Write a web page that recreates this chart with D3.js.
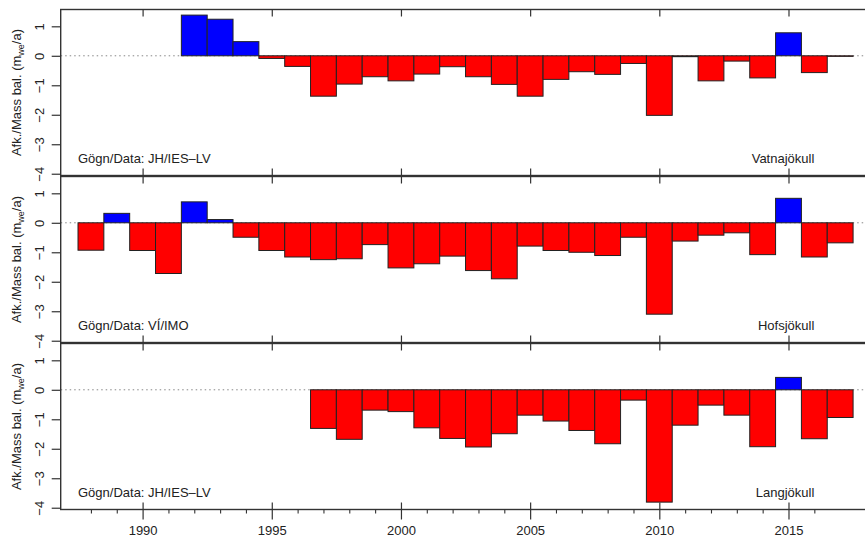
<!DOCTYPE html>
<html><head><meta charset="utf-8">
<script src="https://cdn.jsdelivr.net/npm/d3@7"></script>
<style>
body{margin:0;background:#fff}
svg{display:block}
text{font-family:"Liberation Sans",Arial,Helvetica,sans-serif;fill:#222}
</style>
</head><body>
<svg id="chart" width="865" height="538"></svg>
<script>
// ---- data ----
const years = [1988,1989,1990,1991,1992,1993,1994,1995,1996,1997,1998,1999,2000,2001,2002,2003,2004,2005,2006,2007,2008,2009,2010,2011,2012,2013,2014,2015,2016,2017];
const vatnajokull = [null,null,null,null,1.38,1.24,0.48,-0.09,-0.36,-1.37,-0.96,-0.71,-0.85,-0.62,-0.37,-0.71,-0.97,-1.37,-0.80,-0.54,-0.63,-0.26,-2.02,-0.03,-0.85,-0.18,-0.75,0.78,-0.57,-0.02];
const hofsjokull = [-0.93,0.32,-0.94,-1.72,0.71,0.11,-0.49,-0.94,-1.16,-1.25,-1.22,-0.74,-1.53,-1.39,-1.13,-1.62,-1.90,-0.79,-0.94,-1.00,-1.11,-0.49,-3.10,-0.62,-0.42,-0.34,-1.08,0.83,-1.16,-0.68];
const langjokull = [null,null,null,null,null,null,null,null,null,-1.31,-1.68,-0.69,-0.74,-1.29,-1.65,-1.94,-1.49,-0.86,-1.06,-1.38,-1.83,-0.35,-3.81,-1.20,-0.52,-0.86,-1.93,0.42,-1.66,-0.94];
const glaciers = ["Vatnajökull","Hofsjökull","Langjökull"];
const sources = ["Gögn/Data: JH/IES–LV","Gögn/Data: VÍ/IMO","Gögn/Data: JH/IES–LV"];
const yTicks = [-4,-3,-2,-1,0,1];
const xMajor = [1990,1995,2000,2005,2010,2015];
const xMinor = [1988,1989,1991,1992,1993,1994,1996,1997,1998,1999,2001,2002,2003,2004,2006,2007,2008,2009,2011,2012,2013,2014,2016];

const series = [vatnajokull, hofsjokull, langjokull];

// ---- layout ----
const svg = d3.select("#chart");
const left = 60.7, right = 866;
const panelTops = [9.5, 176.5, 343.5];
const panelH = 166;
const fs = 13;

const x = d3.scaleLinear().domain([1986.83, 2018.0]).range([left, right]);
const barW = x(1) - x(0);

series.forEach((vals, i) => {
  const top = panelTops[i], bottom = top + panelH;
  const y = d3.scaleLinear().domain([-4.06, 1.57]).range([bottom, top]);
  const g = svg.append("g");

  // zero line (dotted)
  g.append("line")
    .attr("x1", left).attr("x2", right)
    .attr("y1", y(0)).attr("y2", y(0))
    .attr("stroke", "#888").attr("stroke-width", 1)
    .attr("stroke-dasharray", "1.5,3");

  // bars
  const data = years.map((yr, k) => ({yr, v: vals[k]})).filter(d => d.v !== null);
  g.selectAll("rect.bar").data(data).join("rect")
    .attr("class", "bar")
    .attr("x", d => x(d.yr - 0.5))
    .attr("width", barW)
    .attr("y", d => y(Math.max(d.v, 0)))
    .attr("height", d => Math.abs(y(d.v) - y(0)))
    .attr("fill", d => d.v >= 0 ? "#0000ff" : "#ff0000")
    .attr("stroke", "#222").attr("stroke-width", 1);

  // box
  g.append("rect")
    .attr("x", left).attr("y", top)
    .attr("width", right - left).attr("height", panelH)
    .attr("fill", "none").attr("stroke", "#333").attr("stroke-width", 1.4);

  // y axis
  const ya = g.append("g").attr("transform", `translate(${left},0)`)
    .call(d3.axisLeft(y).tickValues(yTicks).tickSize(9).tickSizeOuter(0).tickFormat(d => d < 0 ? "\u2212" + Math.abs(d) : d));
  ya.select(".domain").remove();
  ya.selectAll(".tick line").attr("stroke", "#333").attr("stroke-width", 1.2);
  ya.selectAll(".tick text")
    .attr("x", 0).attr("dy", 0)
    .attr("transform", "translate(-17,0) rotate(-90)")
    .attr("text-anchor", "middle")
    .style("font-size", fs + "px").style("font-family", "Liberation Sans, Arial, sans-serif").attr("fill", "#222");

  // top inward ticks
  const ta = g.append("g").attr("transform", `translate(0,${top})`)
    .call(d3.axisTop(x).tickValues(xMajor).tickSize(-7).tickSizeOuter(0).tickFormat(""));
  ta.select(".domain").remove();
  ta.selectAll(".tick line").attr("stroke", "#333").attr("stroke-width", 1.2);

  if (i < 2) {
    const ba = g.append("g").attr("transform", `translate(0,${bottom})`)
      .call(d3.axisBottom(x).tickValues(xMajor).tickSize(-7).tickSizeOuter(0).tickFormat(""));
    ba.select(".domain").remove();
    ba.selectAll(".tick line").attr("stroke", "#333").attr("stroke-width", 1.2);
  } else {
    const mi = g.append("g").attr("transform", `translate(0,${bottom})`)
      .call(d3.axisBottom(x).tickValues(xMinor).tickSize(4).tickSizeOuter(0).tickFormat(""));
    mi.select(".domain").remove();
    mi.selectAll(".tick line").attr("stroke", "#333").attr("stroke-width", 1.1);
    const ba = g.append("g").attr("transform", `translate(0,${bottom})`)
      .call(d3.axisBottom(x).tickValues(xMajor).tickSize(10).tickPadding(6).tickSizeOuter(0).tickFormat(d3.format("d")));
    ba.select(".domain").remove();
    ba.selectAll(".tick line").attr("y1", -7).attr("stroke", "#333").attr("stroke-width", 1.2);
    ba.selectAll(".tick text").style("font-size", fs + "px")
      .style("font-family", "Liberation Sans, Arial, sans-serif").attr("fill", "#222");
  }

  // labels
  g.append("text").attr("x", x(1987.5)).attr("y", y(-3.65))
    .style("font-size", fs + "px").text(sources[i]);
  g.append("text").attr("x", x(2016)).attr("y", y(-3.65))
    .attr("text-anchor", "end").style("font-size", fs + "px").text(glaciers[i]);

  // y title
  const t = g.append("text")
    .attr("transform", `translate(20.5,${(top + bottom) / 2}) rotate(-90)`)
    .attr("text-anchor", "middle").style("font-size", fs + "px");
  t.append("tspan").text("Afk./Mass bal. (m");
  t.append("tspan").attr("dy", 3).style("font-size", "9px").text("we");
  t.append("tspan").attr("dy", -3).text("/a)");
});
</script>
</body></html>
